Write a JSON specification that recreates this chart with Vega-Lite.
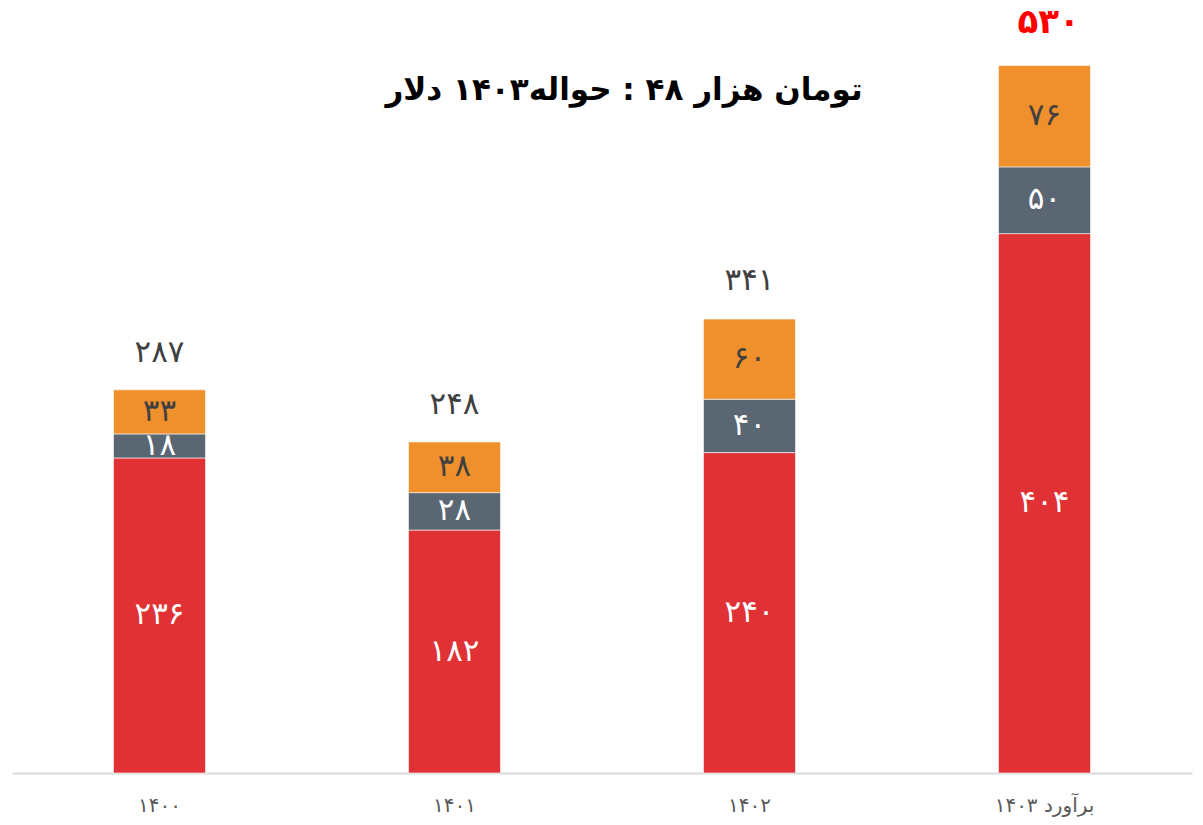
{
  "$schema": "https://vega.github.io/schema/vega-lite/v6.json",
  "autosize": "none",
  "width": 1180,
  "height": 773,
  "padding": {"left": 12, "top": 0, "right": 11, "bottom": 52},
  "background": "#ffffff",
  "title": {
    "text": "تومان هزار ۴۸ : حواله۱۴۰۳ دلار",
    "orient": "top",
    "anchor": "middle",
    "frame": "group",
    "offset": 0,
    "baseline": "middle",
    "dy": 122,
    "dx": 22,
    "font": "DejaVu Sans",
    "fontSize": 31,
    "fontWeight": "bold",
    "color": "#000000"
  },
  "config": {
    "view": {"stroke": null},
    "locale": {
      "number": {
        "decimal": ".",
        "thousands": ",",
        "grouping": [3],
        "currency": ["", ""],
        "numerals": ["۰", "۱", "۲", "۳", "۴", "۵", "۶", "۷", "۸", "۹"]
      }
    },
    "text": {"font": "DejaVu Sans"}
  },
  "datasets": {
    "parts": [
      {"year": "۱۴۰۰", "part": "p1", "order": 1, "value": 236},
      {"year": "۱۴۰۰", "part": "p2", "order": 2, "value": 18},
      {"year": "۱۴۰۰", "part": "p3", "order": 3, "value": 33},
      {"year": "۱۴۰۱", "part": "p1", "order": 1, "value": 182},
      {"year": "۱۴۰۱", "part": "p2", "order": 2, "value": 28},
      {"year": "۱۴۰۱", "part": "p3", "order": 3, "value": 38},
      {"year": "۱۴۰۲", "part": "p1", "order": 1, "value": 240},
      {"year": "۱۴۰۲", "part": "p2", "order": 2, "value": 40},
      {"year": "۱۴۰۲", "part": "p3", "order": 3, "value": 60},
      {"year": "برآورد ۱۴۰۳", "part": "p1", "order": 1, "value": 404},
      {"year": "برآورد ۱۴۰۳", "part": "p2", "order": 2, "value": 50},
      {"year": "برآورد ۱۴۰۳", "part": "p3", "order": 3, "value": 76}
    ],
    "totals": [
      {"year": "۱۴۰۰", "total": 287},
      {"year": "۱۴۰۱", "total": 248},
      {"year": "۱۴۰۲", "total": 341},
      {"year": "برآورد ۱۴۰۳", "total": 530}
    ]
  },
  "encoding": {
    "x": {
      "field": "year",
      "type": "nominal",
      "sort": ["۱۴۰۰", "۱۴۰۱", "۱۴۰۲", "برآورد ۱۴۰۳"],
      "scale": {"paddingInner": 0.688, "paddingOuter": 0.344},
      "axis": {
        "title": null,
        "labelAngle": 0,
        "ticks": false,
        "domainColor": "#D9D9D9",
        "domainWidth": 2,
        "labelColor": "#595959",
        "labelFont": "DejaVu Sans",
        "labelFontSize": 20,
        "labelPadding": 22
      }
    }
  },
  "layer": [
    {
      "data": {"name": "parts"},
      "transform": [
        {"stack": "value", "groupby": ["year"], "sort": [{"field": "order", "order": "ascending"}], "as": ["y0", "y1"]}
      ],
      "mark": {"type": "bar", "stroke": "#ffffff", "strokeWidth": 1, "strokeOpacity": 0.6},
      "encoding": {
        "y": {"field": "y0", "type": "quantitative", "scale": {"domain": [0, 579], "nice": false}, "axis": null},
        "y2": {"field": "y1"},
        "color": {
          "field": "part",
          "type": "nominal",
          "scale": {"domain": ["p1", "p2", "p3"], "range": ["#E03135", "#5A6672", "#F0902C"]},
          "legend": null
        }
      }
    },
    {
      "data": {"name": "parts"},
      "transform": [
        {"stack": "value", "groupby": ["year"], "sort": [{"field": "order", "order": "ascending"}], "as": ["y0", "y1"]},
        {"fold": ["y0", "y1"], "as": ["edge", "pos"]},
        {"aggregate": [{"op": "mean", "field": "pos", "as": "mid"}], "groupby": ["year", "part", "value"]}
      ],
      "mark": {"type": "text", "fontSize": 31, "baseline": "middle", "align": "center"},
      "encoding": {
        "y": {"field": "mid", "type": "quantitative"},
        "text": {"field": "value", "type": "quantitative", "format": "d"},
        "color": {"condition": {"test": "datum.part === 'p3'", "value": "#404040"}, "value": "#FFFFFF"}
      }
    },
    {
      "data": {"name": "totals"},
      "transform": [{"filter": "datum.total < 500"}],
      "mark": {"type": "text", "fontSize": 31, "baseline": "middle", "align": "center", "dy": -37, "color": "#404040"},
      "encoding": {
        "y": {"field": "total", "type": "quantitative"},
        "text": {"field": "total", "type": "quantitative", "format": "d"}
      }
    },
    {
      "data": {"name": "totals"},
      "transform": [{"filter": "datum.total >= 500"}],
      "mark": {"type": "text", "fontSize": 34, "fontWeight": "bold", "baseline": "middle", "align": "center", "dy": -42, "dx": 4, "color": "#FF0000"},
      "encoding": {
        "y": {"field": "total", "type": "quantitative"},
        "text": {"field": "total", "type": "quantitative", "format": "d"}
      }
    }
  ]
}
